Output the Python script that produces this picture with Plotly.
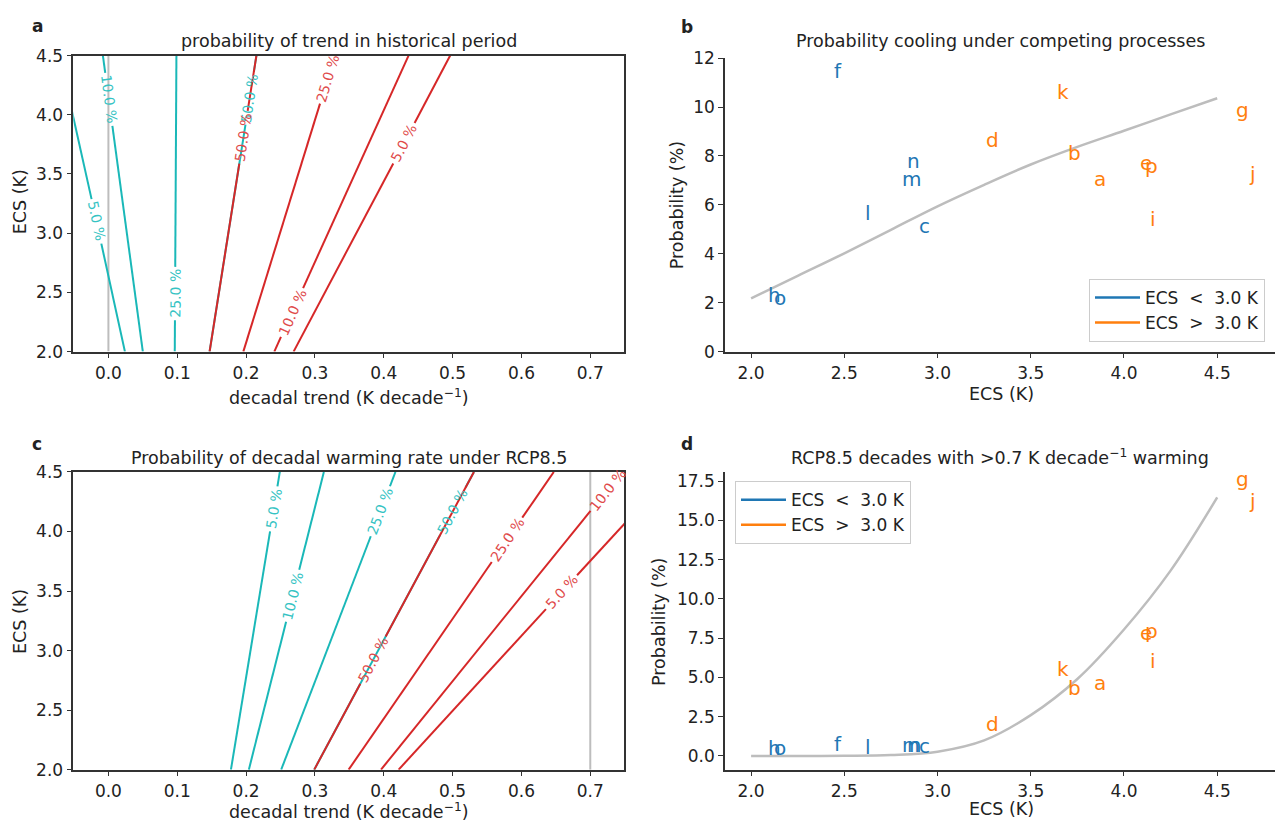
import math
import numpy as np
import plotly.graph_objects as go

W, H = 1277, 834          # browser window == figure (page margin removed below)

# ---------------- data ----------------
level_labels = ["5.0 %", "10.0 %", "25.0 %", "50.0 %"]

# panel a: contour lines (trend, K/decade) at ECS nodes
hist_ecs = [2.0, 3.25, 4.5]
hist_cool_5 = [0.024, -0.023, -0.071]
hist_cool_10 = [0.050, 0.021, -0.008]
hist_cool_25 = [0.0964, 0.0976, 0.0988]
hist_cool_50 = [0.147, 0.181, 0.215]
hist_warm_5 = [0.269, 0.383, 0.4965]
hist_warm_10 = [0.241, 0.3385, 0.436]
hist_warm_25 = [0.196, 0.2625, 0.329]
hist_warm_50 = [0.147, 0.181, 0.215]
hist_cool_label_ecs = [3.10, 4.13, 2.49, 4.14]
hist_warm_label_ecs = [3.76, 2.33, 4.31, 3.81]
hist_ref_trend = 0.0

# panel c
rcp_ecs = [2.0, 3.25, 4.5]
rcp_cool_5 = [0.178, 0.2135, 0.249]
rcp_cool_10 = [0.204, 0.2585, 0.313]
rcp_cool_25 = [0.251, 0.334, 0.417]
rcp_cool_50 = [0.299, 0.415, 0.531]
rcp_warm_5 = [0.4216, 0.620, 0.819]
rcp_warm_10 = [0.396, 0.571, 0.746]
rcp_warm_25 = [0.349, 0.498, 0.647]
rcp_warm_50 = [0.299, 0.415, 0.531]
rcp_cool_label_ecs = [4.19, 3.46, 4.17, 4.17]
rcp_warm_label_ecs = [3.49, 4.35, 3.93, 2.92]
rcp_ref_trend = 0.7

# panels b, d: models
model_letters = ["a", "b", "c", "d", "e", "f", "g", "h", "i", "j", "k", "l", "m", "n", "o", "p"]
model_ecs = [3.835, 3.696, 2.893, 3.255, 4.083, 2.441, 4.596, 2.085, 4.133, 4.667, 3.636, 2.608, 2.805, 2.829, 2.115, 4.107]
cooling_prob = [6.73, 7.81, 4.82, 8.31, 7.39, 11.15, 9.56, 1.98, 5.08, 6.93, 10.28, 5.34, 6.75, 7.45, 1.85, 7.26]
rapid_prob = [4.14, 3.79, 0.10, 1.51, 7.35, 0.27, 17.15, 0.0, 5.55, 15.7, 5.03, 0.06, 0.17, 0.17, 0.0, 7.45]
ecs_threshold = 3.0

curve_ecs = [2.0, 2.25, 2.5, 2.75, 3.0, 3.25, 3.5, 3.75, 4.0, 4.25, 4.5]
cooling_curve = [2.18, 3.10, 4.02, 4.98, 5.94, 6.82, 7.65, 8.37, 9.03, 9.70, 10.36]
rapid_curve = [0.0, 0.0, 0.01, 0.06, 0.27, 0.99, 2.60, 4.90, 8.05, 11.80, 16.46]

# ---------------- style / layout ----------------
FONT = "DejaVu Sans"
CYAN = "#1ab8b8"
CYAN_LAB = "#35c3c3"
RED = "#d62728"
RED_LAB = "#e04a4a"
BLUE = "#1f77b4"
ORANGE = "#ff7f0e"
GRAY = "#bdbdbd"
AX = "#333333"
TXT = "#222222"

# target pixel boxes: (left, right, top, bottom)
box = {
    "a": (73.3, 624.0, 46.7, 350.0),
    "b": (725.0, 1275.0, 49.3, 350.0),
    "c": (73.3, 624.0, 473.3, 778.3),
    "d": (725.0, 1275.0, 473.3, 778.3),
}
trend_range = [-0.051, 0.749]
ecs_range = [2.0, 4.5]
ecs_x_range = [1.86, 4.81]
cool_y_range = [0.0, 12.0]
rapid_y_range = [-0.87, 18.08]


def px(x):
    return x / W


def py(y):
    return 1 - y / H


def dom(k):
    l, r, t, b = box[k]
    return [px(l), px(r)], [py(b), py(t)]


fig = go.Figure()


def scales(k, xr, yr):
    l, r, t, b = box[k]
    return (r - l) / (xr[1] - xr[0]), (b - t) / (yr[1] - yr[0])


LAB_FS = 14


def add_contour(xa, ya, k, ecs_nodes, trend_nodes, label, lab_ecs, color, lab_color):
    sx, sy = scales(k, trend_range, ecs_range)
    f = lambda e: np.interp(e, ecs_nodes, trend_nodes)
    slope = (f(lab_ecs + 0.01) - f(lab_ecs - 0.01)) / 0.02
    dx, dy = slope * sx, sy
    seg = math.hypot(dx, dy)
    text_px = 0.58 * LAB_FS * len(label)
    gap = (text_px / 2 + 3) / seg
    xs, ys = [], []
    lo, hi = ecs_nodes[0], ecs_nodes[-1]
    if lab_ecs - gap > lo:
        e = np.linspace(lo, lab_ecs - gap, 40)
        xs += list(f(e)); ys += list(e)
    xs.append(None); ys.append(None)
    if lab_ecs + gap < hi:
        e = np.linspace(lab_ecs + gap, hi, 40)
        xs += list(f(e)); ys += list(e)
    fig.add_trace(go.Scatter(x=xs, y=ys, mode="lines", line=dict(color=color, width=2),
                             xaxis=xa, yaxis=ya, showlegend=False, hoverinfo="skip"))
    ang = -math.degrees(math.atan2(dy, dx))
    if ang < -90:
        ang += 180
    fig.add_annotation(x=float(f(lab_ecs)), y=lab_ecs, xref=xa, yref=ya, text=label,
                       textangle=ang, showarrow=False,
                       font=dict(size=LAB_FS, color=lab_color, family=FONT))


# panel a
fig.add_trace(go.Scatter(x=[hist_ref_trend, hist_ref_trend], y=ecs_range, mode="lines",
                         line=dict(color=GRAY, width=2), xaxis="x", yaxis="y",
                         showlegend=False, hoverinfo="skip"))
for lab, vals, le in zip(level_labels, [hist_cool_5, hist_cool_10, hist_cool_25, hist_cool_50], hist_cool_label_ecs):
    add_contour("x", "y", "a", hist_ecs, vals, lab, le, CYAN, CYAN_LAB)
for lab, vals, le in zip(level_labels, [hist_warm_5, hist_warm_10, hist_warm_25, hist_warm_50], hist_warm_label_ecs):
    add_contour("x", "y", "a", hist_ecs, vals, lab, le, RED, RED_LAB)

# panel c
fig.add_trace(go.Scatter(x=[rcp_ref_trend, rcp_ref_trend], y=ecs_range, mode="lines",
                         line=dict(color=GRAY, width=2), xaxis="x3", yaxis="y3",
                         showlegend=False, hoverinfo="skip"))
for lab, vals, le in zip(level_labels, [rcp_cool_5, rcp_cool_10, rcp_cool_25, rcp_cool_50], rcp_cool_label_ecs):
    add_contour("x3", "y3", "c", rcp_ecs, vals, lab, le, CYAN, CYAN_LAB)
for lab, vals, le in zip(level_labels, [rcp_warm_5, rcp_warm_10, rcp_warm_25, rcp_warm_50], rcp_warm_label_ecs):
    add_contour("x3", "y3", "c", rcp_ecs, vals, lab, le, RED, RED_LAB)

# panels b and d
for xa, ya, curve, probs, leg in [("x2", "y2", cooling_curve, cooling_prob, "legend"),
                                  ("x4", "y4", rapid_curve, rapid_prob, "legend2")]:
    fig.add_trace(go.Scatter(x=curve_ecs, y=curve, mode="lines", line=dict(color=GRAY, width=2.5, shape="spline"),
                             xaxis=xa, yaxis=ya, showlegend=False, hoverinfo="skip"))
    fig.add_trace(go.Scatter(x=[None], y=[None], mode="lines", line=dict(color=BLUE, width=2.5),
                             name="ECS\u00a0\u00a0<\u00a0\u00a03.0 K", xaxis=xa, yaxis=ya, legend=leg))
    fig.add_trace(go.Scatter(x=[None], y=[None], mode="lines", line=dict(color=ORANGE, width=2.5),
                             name="ECS\u00a0\u00a0>\u00a0\u00a03.0 K", xaxis=xa, yaxis=ya, legend=leg))
    for letter, e, p in zip(model_letters, model_ecs, probs):
        fig.add_annotation(x=e, y=p, xref=xa, yref=ya, text=letter, showarrow=False,
                           xanchor="left", yanchor="bottom", yshift=-5, borderpad=0,
                           font=dict(size=20, color=BLUE if e < ecs_threshold else ORANGE, family=FONT))


def axis(k, which, rng, tickvals, fmt, mirror, anchor):
    xd, yd = dom(k)
    return dict(domain=xd if which == "x" else yd, range=rng, tickvals=tickvals, tickformat=fmt,
                showline=True, mirror=mirror, linecolor=AX, linewidth=1.5, ticks="outside",
                ticklen=5, tickwidth=1.3, tickcolor=AX, showgrid=False, zeroline=False,
                tickfont=dict(size=17, color=TXT, family=FONT), anchor=anchor, fixedrange=True)


trend_ticks = [round(v, 1) for v in np.arange(0.0, 0.75, 0.1)]
ecs_ticks = [2.0, 2.5, 3.0, 3.5, 4.0, 4.5]

legend_style = dict(bgcolor="white", bordercolor="#cccccc", borderwidth=1, itemwidth=45,
                    font=dict(size=17, color=TXT, family=FONT))

fig.update_layout(
    width=W, height=H, margin=dict(l=0, r=0, t=0, b=0),
    paper_bgcolor="white", plot_bgcolor="white",
    font=dict(family=FONT, color=TXT),
    xaxis=axis("a", "x", trend_range, trend_ticks, ".1f", True, "y"),
    yaxis=axis("a", "y", ecs_range, ecs_ticks, ".1f", True, "x"),
    xaxis2=axis("b", "x", ecs_x_range, ecs_ticks, ".1f", False, "y2"),
    yaxis2=axis("b", "y", cool_y_range, [0, 2, 4, 6, 8, 10, 12], "d", False, "x2"),
    xaxis3=axis("c", "x", trend_range, trend_ticks, ".1f", True, "y3"),
    yaxis3=axis("c", "y", ecs_range, ecs_ticks, ".1f", True, "x3"),
    xaxis4=axis("d", "x", ecs_x_range, ecs_ticks, ".1f", False, "y4"),
    yaxis4=axis("d", "y", rapid_y_range, [0, 2.5, 5, 7.5, 10, 12.5, 15, 17.5], ".1f", False, "x4"),
    legend=dict(x=px(1265), y=py(340), xanchor="right", yanchor="bottom", **legend_style),
    legend2=dict(x=px(735), y=py(482.7), xanchor="left", yanchor="top", **legend_style),
)


def paper_text(x, y, text, size=17.5, angle=0, bold=False):
    fig.add_annotation(x=px(x), y=py(y), xref="paper", yref="paper", text=f"<b>{text}</b>" if bold else text,
                       showarrow=False, textangle=angle, xanchor="center", yanchor="middle",
                       font=dict(size=size, color=TXT, family=FONT))


# titles
paper_text(348.7, 31.7, "probability of trend in historical period")
paper_text(1000.0, 31.7, "Probability cooling under competing processes")
paper_text(348.7, 459.0, "Probability of decadal warming rate under RCP8.5")
paper_text(1000.0, 458.0, "RCP8.5 decades with >0.7 K decade<sup>\u22121</sup> warming")
# panel letters
paper_text(37, 16, "a", 17, bold=True)
paper_text(687, 17, "b", 17, bold=True)
paper_text(37, 445, "c", 17, bold=True)
paper_text(687, 445, "d", 17, bold=True)
# axis titles
paper_text(348.7, 396, "decadal trend (K decade<sup>\u22121</sup>)")
paper_text(348.7, 821, "decadal trend (K decade<sup>\u22121</sup>)")
paper_text(20, 197, "ECS (K)", angle=-90)
paper_text(20, 627, "ECS (K)", angle=-90)
paper_text(1001, 393, "ECS (K)")
paper_text(1001, 819, "ECS (K)")
paper_text(677, 200, "Probability (%)", angle=-90)
paper_text(659, 627, "Probability (%)", angle=-90)

fig.write_html("out.html", config={"displayModeBar": False},
               post_script="document.body.style.margin='0';document.body.style.overflow='hidden';")
